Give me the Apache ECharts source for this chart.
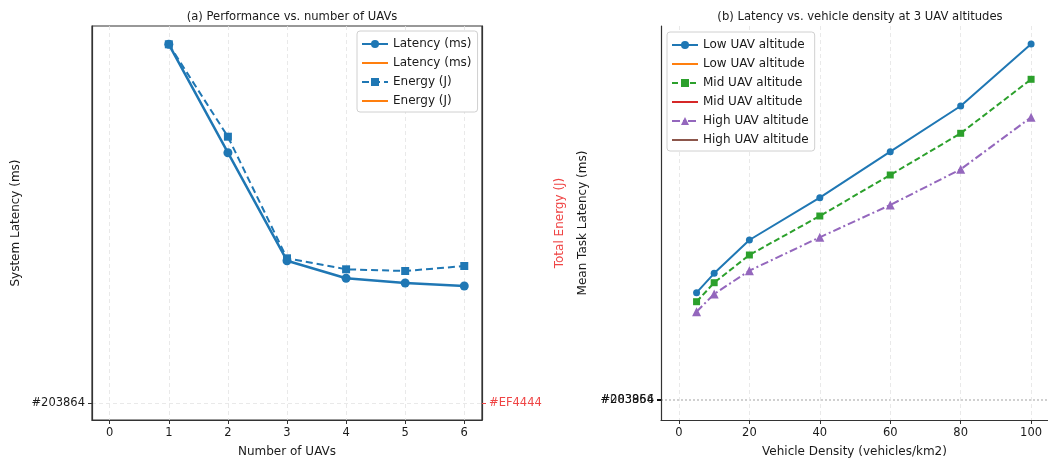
<!DOCTYPE html>
<html>
<head>
<meta charset="utf-8">
<script src="https://cdn.jsdelivr.net/npm/echarts@6/dist/echarts.min.js"></script>
<style>
  html, body { margin: 0; padding: 0; background: #fff; }
  #main { width: 1048px; height: 463px; }
</style>
</head>
<body>
<div id="main"></div>
<script>
// (a) number of UAVs
var uavs = [1, 2, 3, 4, 5, 6];
var latency = [358.7, 250.3, 142.3, 124.7, 120, 117];
var energy = [358.7, 266.3, 144.7, 133.7, 132, 137];
var uavTicks = [0, 1, 2, 3, 4, 5, 6];

// (b) vehicle density
var density = [5, 10, 20, 40, 60, 80, 100];
var lowAlt = [107.3, 126.7, 160, 202.3, 248.3, 294, 356];
var midAlt = [98.3, 117.3, 145, 184, 225, 266.7, 320.7];
var highAlt = [88.3, 106, 129.3, 162.7, 195, 230.7, 282.7];
var densityTicks = [0, 20, 40, 60, 80, 100];

var ZW = '\u200b'; // keeps duplicate legend names apart
var FONT = 'DejaVu Sans';

function pairs(xs, ys) {
    var out = [];
    for (var i = 0; i < xs.length; i++) out.push([xs[i], ys[i]]);
    return out;
}

var dashGrid = {show: true, lineStyle: {color: '#e3e3e3', type: [4, 3], width: 0.8}};
var tickLabel = {fontFamily: FONT, fontSize: 11.5, color: '#1a1a1a'};
var nameStyle = {fontFamily: FONT, fontSize: 12, color: '#1a1a1a'};
var legendBase = {
    orient: 'vertical', itemWidth: 26, itemHeight: 10, itemGap: 7,
    padding: [7, 6, 5, 4], borderColor: '#d0d0d0', borderWidth: 1, borderRadius: 3, backgroundColor: '#fff',
    textStyle: {fontFamily: FONT, fontSize: 12, color: '#1a1a1a'}
};
var hidden = {opacity: 0};

var myChart = echarts.init(document.getElementById('main'));
var option = {
    backgroundColor: '#fff',
    animation: false,
    title: [
        {text: '(a) Performance vs. number of UAVs', left: 287, top: 6, textAlign: 'center',
            textStyle: {fontFamily: FONT, fontSize: 11.6, fontWeight: 'normal', color: '#1a1a1a'}},
        {text: '(b) Latency vs. vehicle density at 3 UAV altitudes', left: 855, top: 6, textAlign: 'center',
            textStyle: {fontFamily: FONT, fontSize: 11.6, fontWeight: 'normal', color: '#1a1a1a'}}
    ],
    grid: [
        {left: 92, top: 26, width: 390, height: 394, show: true, borderColor: '#333', borderWidth: 1.2,
            outerBoundsMode: 'none'},
        {left: 661, top: 26, width: 387, height: 394, outerBoundsMode: 'none'}
    ],
    legend: [
        Object.assign({left: 357, top: 31,
            data: ['Latency (ms)', 'Latency (ms)' + ZW, 'Energy (J)', 'Energy (J)' + ZW]}, legendBase),
        Object.assign({left: 667, top: 32,
            data: ['Low UAV altitude', 'Low UAV altitude' + ZW, 'Mid UAV altitude', 'Mid UAV altitude' + ZW,
                'High UAV altitude', 'High UAV altitude' + ZW]}, legendBase)
    ],
    xAxis: [
        {
            gridIndex: 0, type: 'value', min: -0.3, max: 6.3,
            name: 'Number of UAVs', nameLocation: 'middle', nameGap: 26, nameTextStyle: nameStyle,
            axisLine: {show: true, onZero: false, lineStyle: {color: '#333', width: 1.2}},
            axisTick: {show: true, length: 4, customValues: uavTicks, lineStyle: {color: '#333'}},
            axisLabel: Object.assign({customValues: uavTicks, margin: 7}, tickLabel),
            splitLine: dashGrid
        },
        {
            gridIndex: 1, type: 'value', min: -5.1, max: 104.8,
            name: 'Vehicle Density (vehicles/km2)', nameLocation: 'middle', nameGap: 26, nameTextStyle: nameStyle,
            axisLine: {show: true, onZero: false, lineStyle: {color: '#333', width: 1.2}},
            axisTick: {show: true, length: 4, customValues: densityTicks, lineStyle: {color: '#333'}},
            axisLabel: Object.assign({customValues: densityTicks, margin: 7}, tickLabel),
            splitLine: dashGrid
        }
    ],
    yAxis: [
        {
            gridIndex: 0, type: 'value', min: -17, max: 377, position: 'left',
            name: 'System Latency (ms)', nameLocation: 'middle', nameGap: 70, nameTextStyle: nameStyle,
            axisLine: {show: true, onZero: false, lineStyle: {color: '#333', width: 1.2}},
            axisTick: {show: true, length: 4, customValues: [0], lineStyle: {color: '#333'}},
            axisLabel: Object.assign({customValues: [0], margin: 7, formatter: function () { return '#203864'; }}, tickLabel),
            splitLine: dashGrid
        },
        {
            gridIndex: 0, type: 'value', min: -17, max: 377, position: 'right',
            name: 'Total Energy (J)', nameLocation: 'middle', nameGap: 72,
            nameTextStyle: {fontFamily: FONT, fontSize: 12, color: '#EF4444'},
            axisLine: {show: true, onZero: false, lineStyle: {color: '#333', width: 1.2}},
            axisTick: {show: true, length: 4, customValues: [0], lineStyle: {color: '#EF4444'}},
            axisLabel: {customValues: [0], margin: 7, fontFamily: FONT, fontSize: 11.5, color: '#EF4444',
                formatter: function () { return '#EF4444'; }},
            splitLine: {show: false}
        },
        {
            gridIndex: 1, type: 'value', min: -20, max: 374, position: 'left',
            name: 'Mean Task Latency (ms)', nameLocation: 'middle', nameGap: 72, nameTextStyle: nameStyle,
            axisLine: {show: true, onZero: false, lineStyle: {color: '#333', width: 1.2}},
            axisTick: {show: true, length: 4, customValues: [0], lineStyle: {color: '#111', width: 2}},
            axisLabel: {customValues: [0], margin: 7, fontFamily: FONT, fontSize: 11.5, color: '#111',
                formatter: function () { return '#203864'; }},
            splitLine: {show: true, lineStyle: {color: '#d0d0d0', type: [2, 2], width: 2}}
        },
        {
            gridIndex: 1, type: 'value', min: -20, max: 374, position: 'left',
            axisLine: {show: false, onZero: false}, axisTick: {show: false},
            axisLabel: {customValues: [0], margin: 7, fontFamily: FONT, fontSize: 11.5, color: 'rgba(17,17,17,0.8)',
                formatter: function () { return '#083956'; }},
            splitLine: {show: false}
        }
    ],
    series: [
        {name: 'Latency (ms)', type: 'line', xAxisIndex: 0, yAxisIndex: 0, data: pairs(uavs, latency),
            color: '#1f77b4', symbol: 'circle', symbolSize: 9, lineStyle: {width: 2.5}},
        {name: 'Latency (ms)' + ZW, type: 'line', xAxisIndex: 0, yAxisIndex: 0, data: [],
            color: '#ff7f0e', symbol: 'none', itemStyle: hidden, lineStyle: {width: 2.5}},
        {name: 'Energy (J)', type: 'line', xAxisIndex: 0, yAxisIndex: 1, data: pairs(uavs, energy),
            color: '#1f77b4', symbol: 'rect', symbolSize: 8, lineStyle: {width: 2, type: [7, 4]}},
        {name: 'Energy (J)' + ZW, type: 'line', xAxisIndex: 0, yAxisIndex: 1, data: [],
            color: '#ff7f0e', symbol: 'none', itemStyle: hidden, lineStyle: {width: 2}},

        {name: 'Low UAV altitude', type: 'line', xAxisIndex: 1, yAxisIndex: 2, data: pairs(density, lowAlt),
            color: '#1f77b4', symbol: 'circle', symbolSize: 7, lineStyle: {width: 2}},
        {name: 'Low UAV altitude' + ZW, type: 'line', xAxisIndex: 1, yAxisIndex: 2, data: [],
            color: '#ff7f0e', symbol: 'none', itemStyle: hidden, lineStyle: {width: 2}},
        {name: 'Mid UAV altitude', type: 'line', xAxisIndex: 1, yAxisIndex: 2, data: pairs(density, midAlt),
            color: '#2ca02c', symbol: 'rect', symbolSize: 7, lineStyle: {width: 2, type: [6, 3]}},
        {name: 'Mid UAV altitude' + ZW, type: 'line', xAxisIndex: 1, yAxisIndex: 2, data: [],
            color: '#d62728', symbol: 'none', itemStyle: hidden, lineStyle: {width: 2}},
        {name: 'High UAV altitude', type: 'line', xAxisIndex: 1, yAxisIndex: 2, data: pairs(density, highAlt),
            color: '#9467bd', symbol: 'triangle', symbolSize: 9, lineStyle: {width: 2, type: [8, 3, 2, 3]}},
        {name: 'High UAV altitude' + ZW, type: 'line', xAxisIndex: 1, yAxisIndex: 2, data: [],
            color: '#8c564b', symbol: 'none', itemStyle: hidden, lineStyle: {width: 2}}
    ]
};

// 为echarts对象加载数据
myChart.setOption(option);
</script>
</body>
</html>
